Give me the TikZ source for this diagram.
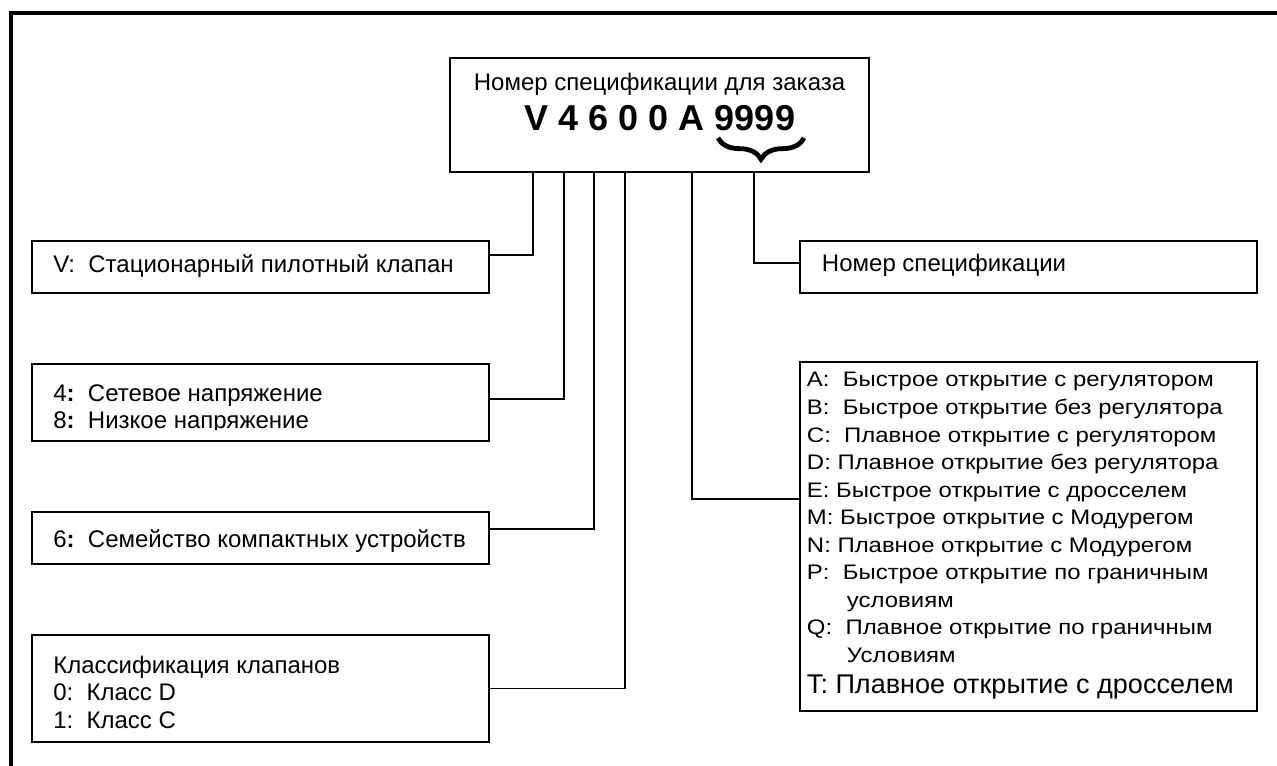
\documentclass[tikz,border=0pt]{standalone}
\usepackage{fontspec}
\setmainfont{Liberation Sans}
\newfontfamily\widesans[FakeStretch=1.14]{Liberation Sans}
\usetikzlibrary{fit, decorations.pathreplacing}

\begin{document}
\begin{tikzpicture}[
  x=0.75pt, y=-0.75pt,
  itembox/.style={rectangle, draw, line width=1pt, inner sep=0pt},
  mainbox/.style={itembox, line width=1.4pt},
  itemtext/.style={anchor=base west, inner sep=0pt, font=\fontsize{18}{21}\selectfont},
  choicetext/.style={anchor=base west, inner sep=0pt, font=\widesans\fontsize{15.75}{20}\selectfont},
  link/.style={line width=1.1pt}
]
  \useasboundingbox (0,0) rectangle (1277,766);
  % outer frame (only top and left edges are visible)
  \draw[line width=3pt] (1277,13) -| (10.7,766);

  % order code
  \node[mainbox, fit={(450,58) (869,172)}] (order) {};
  \node[anchor=base, inner sep=0pt, font=\fontsize{18}{21}\selectfont] (ordtitle) at (659.5,91) {Номер спецификации для заказа};
  \node[anchor=base, inner sep=0pt, font=\bfseries\fontsize{27}{30}\selectfont] (ordcode) at (660,131) {V 4 6 0 0 A 9999};
  \draw[line width=3.6pt, decorate, decoration={brace, mirror, amplitude=16pt}] (718,138) -- (804,138);

  % taps on the lower edge of the order box
  \foreach \nm/\dx in {V/84, Volt/115, Famil/145, Class/176, Mode/243, Spec/305}
    \path (order.south west) ++(\dx,0) coordinate (tap\nm);

  % left column
  \node[itembox, fit={(32,241) (489,293)}] (vbox) {};
  \node[itemtext] (vtext) at (53,273) {V:\ \ Стационарный пилотный клапан};

  \node[itembox, fit={(32,364) (489,441)}] (voltbox) {};
  \node[itemtext] (volt1) at (53,401) {4\textbf{:}\ \ Сетевое напряжение};
  \begin{scope}
    \clip (32,364) rectangle (489,429.5);
    \node[itemtext] (volt2) at (53,428) {8\textbf{:}\ \ Низкое напряжение};
  \end{scope}

  \node[itembox, fit={(32,512) (489,564)}] (familbox) {};
  \node[itemtext] (familtext) at (53,547) {6\textbf{:}\ \ Семейство компактных устройств};

  \node[itembox, fit={(32,635) (489,742)}] (classbox) {};
  \node[itemtext] (class1) at (53,673) {Классификация клапанов};
  \node[itemtext] (class2) at (53,700) {0:\ \ Класс D};
  \node[itemtext] (class3) at (53,728) {1:\ \ Класс C};

  % right column
  \node[itembox, fit={(800,241) (1257,293)}] (specbox) {};
  \node[itemtext] (spectext) at (821.7,271.7) {Номер спецификации};

  \node[mainbox, fit={(800,362) (1257,711)}] (modebox) {};
  \foreach \txt [count=\i] in {
    A:\ \ Быстрое открытие с регулятором,
    B:\ \ Быстрое открытие без регулятора,
    C:\ \ Плавное открытие с регулятором,
    D: Плавное открытие без регулятора,
    E: Быстрое открытие с дросселем,
    M: Быстрое открытие с Модурегом,
    N: Плавное открытие с Модурегом,
    P:\ \ Быстрое открытие по граничным,
    \hspace*{30pt}условиям,
    Q:\ \ Плавное открытие по граничным,
    \hspace*{30pt}Условиям}
    \node[choicetext] (mode\i) at (806.7,{387+27.5*(\i-1)}) {\txt};
  \node[choicetext, font=\fontsize{20.3}{24}\selectfont] (modeT) at (806.7,693) {T: Плавное открытие с дросселем};

  % connectors
  \draw[link] ([yshift=9pt]vbox.east) -| (tapV);
  \draw[link] ([yshift=2.6pt]voltbox.east) -| (tapVolt);
  \draw[link] ([yshift=6.75pt]familbox.east) -| (tapFamil);
  \draw[link] (classbox.east) -| (tapClass);
  \draw[link] ([yshift=3pt]specbox.west) -| (tapSpec);
  \draw[link] ([yshift=28pt]modebox.west) -| (tapMode);
\end{tikzpicture}
\end{document}
